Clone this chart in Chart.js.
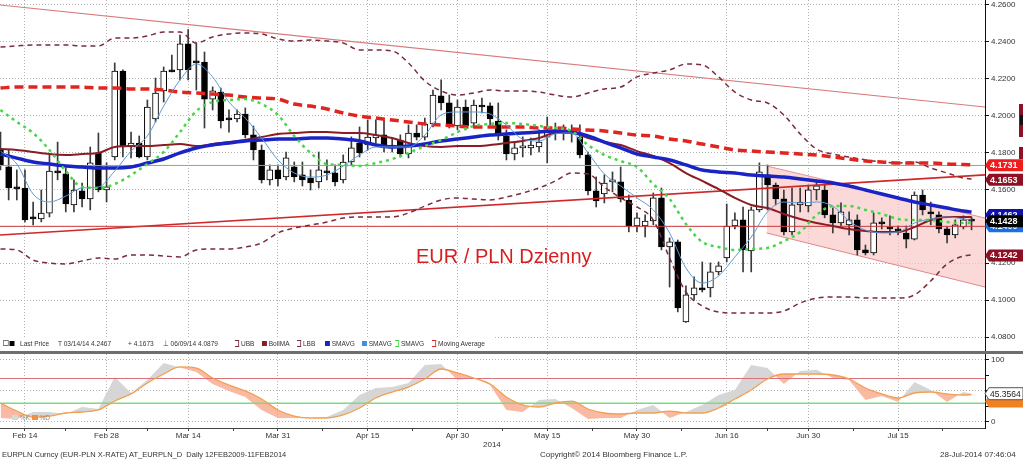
<!DOCTYPE html>
<html>
<head>
<meta charset="utf-8">
<script src="https://cdn.jsdelivr.net/npm/chart.js@4.4.0/dist/chart.umd.min.js"></script>
<style>
  body { margin:0; background:#fff; width:1023px; height:461px; position:relative; overflow:hidden;
         font-family:'Liberation Sans Narrow','Liberation Sans',Arial,sans-serif; }
  canvas { position:absolute; left:0; }
  #upper { top:0; }
  #lower { top:354px; }
  .sep { position:absolute; left:0; top:351px; width:1023px; height:3px; background:#6e6e6e; }
  .title { position:absolute; left:416px; top:246px; font:20px 'Liberation Sans',Arial,sans-serif; color:#d42020;
           line-height:20px; white-space:nowrap; }
  .legend { position:absolute; left:0; top:337px; height:13px; width:495px; background:rgba(255,255,255,0.92);
            font-size:8px; color:#333; }
  .legend span { position:absolute; top:2px; white-space:nowrap; line-height:9px; transform:scaleX(0.82); transform-origin:left center; }
  .sq { display:inline-block; width:6px; height:5px; vertical-align:0; }
  .br { display:inline-block; width:4px; height:5px; border:1px solid; border-left:none; vertical-align:-1px; }
  .box { display:inline-block; width:5px; height:4px; border:1px solid #777; margin-right:1px; vertical-align:0; }
  .foot { position:absolute; font-size:8px; color:#333; white-space:nowrap; line-height:10px; }
  .kd { position:absolute; left:12px; top:414px; font-size:6.5px; color:#888; line-height:8px; white-space:nowrap; }
</style>
</head>
<body>
<canvas id="upper" width="1023" height="352"></canvas>
<div class="title">EUR / PLN Dzienny</div>
<div class="legend">
  <span style="left:3px"><i class="box"></i><i class="sq" style="background:#000"></i></span>
  <span style="left:20px">Last Price</span>
  <span style="left:58px">T 03/14/14 4.2467</span>
  <span style="left:128px">+ 4.1673</span>
  <span style="left:163px">⊥ 06/09/14 4.0879</span>
  <span style="left:235px"><i class="br" style="border-color:#7a2b3c"></i> UBB</span>
  <span style="left:262px"><i class="sq" style="background:#8c1c24"></i> BollMA</span>
  <span style="left:297px"><i class="br" style="border-color:#7a2b3c"></i> LBB</span>
  <span style="left:325px"><i class="sq" style="background:#1a24c4"></i> SMAVG</span>
  <span style="left:362px"><i class="sq" style="background:#3d8fe0"></i> SMAVG</span>
  <span style="left:395px"><i class="br" style="border-color:#47d647"></i> SMAVG</span>
  <span style="left:432px"><i class="br" style="border-color:#e0241f"></i> Moving Average</span>
</div>
<div class="sep"></div>
<canvas id="lower" width="1023" height="88"></canvas>
<div class="kd"><i class="sq" style="background:#d8d8d8"></i> %K <i class="sq" style="background:#f09040"></i> %D</div>
<div class="foot" style="left:483px;top:440px">2014</div>
<div class="foot" style="left:2px;top:450px;font-size:7.5px">EURPLN Curncy (EUR-PLN X-RATE) AT_EURPLN_D&nbsp; Daily 12FEB2009-11FEB2014</div>
<div class="foot" style="left:540px;top:450px">Copyright© 2014 Bloomberg Finance L.P.</div>
<div class="foot" style="left:940px;top:450px">28-Jul-2014 07:46:04</div>

<script>
// trading-day index, 0 = Feb 14 2014
const tickIdx = [0, 10, 20, 31, 42, 53, 64, 75, 86, 96, 107];
const tickLabels = ['Feb 14', 'Feb 28', 'Mar 14', 'Mar 31', 'Apr 15', 'Apr 30', 'May 15', 'May 30', 'Jun 16', 'Jun 30', 'Jul 15'];
const minorIdx = [5, 15, 25.5, 36.5, 47.5, 58.5, 69.5, 80.5, 91, 101.5, 112.5];
const priceTicks = [4.08, 4.10, 4.12, 4.14, 4.16, 4.18, 4.20, 4.22, 4.24, 4.26];
const oscTicks = [0, 25, 50, 75, 100];

// daily candles, first one = index -3
const firstIdx = -3;
const open = [
  4.1814, 4.1722, 4.1614, 4.1608, 4.1451, 4.1440, 4.1472, 4.1700, 4.1684, 4.1516,
  4.1592, 4.1549, 4.1798, 4.1597, 4.1776, 4.2242, 4.1830, 4.1852, 4.1776, 4.1982,
  4.2134, 4.2248, 4.2248, 4.2389, 4.2296, 4.2291, 4.2090, 4.2128, 4.1982, 4.1982,
  4.2009, 4.1896, 4.1814, 4.1652, 4.1706, 4.1668, 4.1722, 4.1679, 4.1662, 4.1641,
  4.1700, 4.1690, 4.1652, 4.1749, 4.1852, 4.1841, 4.1879, 4.1896, 4.1841, 4.1868,
  4.1792, 4.1906, 4.1884, 4.1955, 4.2107, 4.2069, 4.1944, 4.2047, 4.1960, 4.2053,
  4.2053, 4.1971, 4.1890, 4.1792, 4.1825, 4.1825, 4.1830, 4.1884, 4.1906, 4.1911,
  4.1906, 4.1884, 4.1787, 4.1592, 4.1576, 4.1641, 4.1641, 4.1543, 4.1402, 4.1402,
  4.1429, 4.1554, 4.1289, 4.1316, 4.0882, 4.1028, 4.1066, 4.1066, 4.1153, 4.1229,
  4.1402, 4.1435, 4.1267, 4.1489, 4.1679, 4.1624, 4.1549, 4.1370, 4.1516, 4.1511,
  4.1598, 4.1597, 4.1462, 4.1419, 4.1408, 4.1435, 4.1272, 4.1256, 4.1424, 4.1397,
  4.1386, 4.1364, 4.1331, 4.1570, 4.1478, 4.1462, 4.1386, 4.1354, 4.1397, 4.1435
];
const high = [
  4.1911, 4.1814, 4.1706, 4.1706, 4.1532, 4.1597, 4.1787, 4.1857, 4.1717, 4.1652,
  4.1635, 4.1830, 4.1906, 4.1744, 4.2286, 4.2248, 4.1911, 4.1890, 4.2085, 4.2204,
  4.2264, 4.2329, 4.2437, 4.2467, 4.2394, 4.2345, 4.2156, 4.2150, 4.2031, 4.2031,
  4.2042, 4.1944, 4.1841, 4.1733, 4.1733, 4.1803, 4.1749, 4.1749, 4.1706, 4.1803,
  4.1760, 4.1733, 4.1787, 4.1885, 4.1939, 4.1977, 4.1977, 4.1977, 4.1879, 4.1896,
  4.1950, 4.1950, 4.1987, 4.2139, 4.2194, 4.2112, 4.2085, 4.2085, 4.2085, 4.2096,
  4.2069, 4.2069, 4.1923, 4.1857, 4.1885, 4.1879, 4.1923, 4.1993, 4.1960, 4.1950,
  4.1950, 4.1950, 4.1803, 4.1668, 4.1679, 4.1695, 4.1722, 4.1570, 4.1473, 4.1462,
  4.1581, 4.1608, 4.1337, 4.1326, 4.1077, 4.1126, 4.1207, 4.1202, 4.1207, 4.1521,
  4.1473, 4.1505, 4.1505, 4.1744, 4.1733, 4.1635, 4.1597, 4.1608, 4.1608, 4.1624,
  4.1652, 4.1624, 4.1500, 4.1527, 4.1478, 4.1462, 4.1299, 4.1473, 4.1446, 4.1457,
  4.1402, 4.1402, 4.1587, 4.1597, 4.1532, 4.1478, 4.1397, 4.1435, 4.1457, 4.1451
];
const low = [
  4.1706, 4.1543, 4.1543, 4.1424, 4.1408, 4.1424, 4.1451, 4.1652, 4.1478, 4.1478,
  4.1505, 4.1489, 4.1587, 4.1532, 4.1760, 4.1776, 4.1771, 4.1771, 4.1760, 4.1966,
  4.2074, 4.2237, 4.2194, 4.2194, 4.2139, 4.1933, 4.2031, 4.1933, 4.1911, 4.1966,
  4.1879, 4.1760, 4.1635, 4.1624, 4.1619, 4.1652, 4.1641, 4.1619, 4.1597, 4.1608,
  4.1652, 4.1619, 4.1635, 4.1733, 4.1776, 4.1814, 4.1852, 4.1803, 4.1803, 4.1776,
  4.1771, 4.1868, 4.1868, 4.1939, 4.2031, 4.1933, 4.1923, 4.1923, 4.1933, 4.2015,
  4.1950, 4.1868, 4.1760, 4.1760, 4.1776, 4.1787, 4.1803, 4.1744, 4.1868, 4.1868,
  4.1857, 4.1771, 4.1570, 4.1505, 4.1527, 4.1587, 4.1532, 4.1370, 4.1370, 4.1343,
  4.1408, 4.1272, 4.1071, 4.0936, 4.0879, 4.1001, 4.1044, 4.1017, 4.1137, 4.1207,
  4.1386, 4.1153, 4.1153, 4.1478, 4.1489, 4.1516, 4.1354, 4.1354, 4.1478, 4.1478,
  4.1543, 4.1446, 4.1364, 4.1402, 4.1354, 4.1245, 4.1245, 4.1245, 4.1386, 4.1354,
  4.1354, 4.1283, 4.1326, 4.1462, 4.1408, 4.1364, 4.1310, 4.1337, 4.1386, 4.1381
];
const close = [
  4.1733, 4.1608, 4.1603, 4.1435, 4.1440, 4.1472, 4.1700, 4.1690, 4.1522, 4.1597,
  4.1549, 4.1744, 4.1597, 4.1614, 4.2242, 4.1830, 4.1852, 4.1776, 4.2047, 4.2123,
  4.2242, 4.2237, 4.2389, 4.2248, 4.2286, 4.2090, 4.2134, 4.1971, 4.1977, 4.2009,
  4.1896, 4.1814, 4.1652, 4.1706, 4.1657, 4.1771, 4.1668, 4.1652, 4.1635, 4.1706,
  4.1690, 4.1641, 4.1749, 4.1825, 4.1798, 4.1884, 4.1896, 4.1825, 4.1825, 4.1792,
  4.1906, 4.1884, 4.1955, 4.2112, 4.2069, 4.1944, 4.2047, 4.1944, 4.2058, 4.2047,
  4.1982, 4.1890, 4.1792, 4.1825, 4.1836, 4.1841, 4.1857, 4.1911, 4.1911, 4.1906,
  4.1901, 4.1787, 4.1592, 4.1538, 4.1635, 4.1646, 4.1549, 4.1402, 4.1446, 4.1429,
  4.1554, 4.1289, 4.1316, 4.0958, 4.1028, 4.1066, 4.1055, 4.1153, 4.1186, 4.1402,
  4.1435, 4.1272, 4.1489, 4.1695, 4.1624, 4.1549, 4.1370, 4.1516, 4.1532, 4.1598,
  4.1619, 4.1462, 4.1419, 4.1478, 4.1435, 4.1272, 4.1256, 4.1419, 4.1413, 4.1386,
  4.1375, 4.1331, 4.1570, 4.1489, 4.1467, 4.1386, 4.1354, 4.1408, 4.1435, 4.1428
];

// indicator lines, read every second trading day
const lineIdx = [-3, -1, 1, 3, 5, 7, 9, 11, 13, 15, 17, 19, 21, 23, 25, 27, 29, 31, 33, 35,
  37, 39, 41, 43, 45, 47, 49, 51, 53, 55, 57, 59, 61, 63, 65, 67, 69, 71, 73, 75,
  77, 79, 81, 83, 85, 87, 89, 91, 93, 95, 97, 99, 101, 103, 105, 107, 109, 111, 113, 115, 116];
const ubb = [4.2372, 4.2378, 4.2383, 4.2383, 4.2383, 4.2378, 4.2378, 4.2421, 4.2421, 4.2432,
  4.2454, 4.2454, 4.2394, 4.2427, 4.2443, 4.2448, 4.2443, 4.2416, 4.2405, 4.2410,
  4.2405, 4.2394, 4.2356, 4.2356, 4.2351, 4.2286, 4.2188, 4.2134, 4.2112, 4.2123,
  4.2139, 4.2134, 4.2134, 4.2128, 4.2112, 4.2101, 4.2123, 4.2145, 4.2155, 4.2210,
  4.2231, 4.2248, 4.2280, 4.2275, 4.2210, 4.2128, 4.2085, 4.2069, 4.2004, 4.1901,
  4.1819, 4.1792, 4.1776, 4.1760, 4.1749, 4.1743, 4.1749, 4.1716, 4.1689, 4.1662, 4.1657];
const lbb = [4.1277, 4.1272, 4.1217, 4.1201, 4.1196, 4.1212, 4.1228, 4.1223, 4.1245, 4.1245,
  4.1239, 4.1234, 4.1272, 4.1277, 4.1277, 4.1288, 4.1310, 4.1364, 4.1391, 4.1407,
  4.1423, 4.1445, 4.1451, 4.1451, 4.1451, 4.1472, 4.1510, 4.1543, 4.1554, 4.1548,
  4.1543, 4.1559, 4.1581, 4.1608, 4.1646, 4.1689, 4.1684, 4.1613, 4.1554, 4.1505,
  4.1434, 4.1228, 4.1044, 4.0968, 4.0935, 4.0930, 4.0930, 4.0930, 4.0941, 4.0984,
  4.1011, 4.1017, 4.1017, 4.1011, 4.1011, 4.1011, 4.1028, 4.1104, 4.1196, 4.1239, 4.1245];
const bollMa = [4.1819, 4.1814, 4.1803, 4.1792, 4.1787, 4.1792, 4.1798, 4.1830, 4.1835, 4.1835,
  4.1841, 4.1846, 4.1835, 4.1846, 4.1857, 4.1868, 4.1884, 4.1901, 4.1906, 4.1911,
  4.1911, 4.1906, 4.1906, 4.1895, 4.1879, 4.1852, 4.1835, 4.1830, 4.1835, 4.1835,
  4.1841, 4.1852, 4.1863, 4.1879, 4.1906, 4.1906, 4.1879, 4.1857, 4.1841, 4.1808,
  4.1781, 4.1743, 4.1689, 4.1646, 4.1602, 4.1554, 4.1516, 4.1499, 4.1467, 4.1440,
  4.1418, 4.1402, 4.1385, 4.1375, 4.1369, 4.1369, 4.1396, 4.1434, 4.1451, 4.1451, 4.1451];
const smaLong = [4.1792, 4.1770, 4.1749, 4.1738, 4.1727, 4.1722, 4.1716, 4.1716, 4.1722, 4.1743,
  4.1765, 4.1798, 4.1825, 4.1841, 4.1852, 4.1863, 4.1868, 4.1873, 4.1873, 4.1879,
  4.1879, 4.1873, 4.1863, 4.1841, 4.1830, 4.1835, 4.1846, 4.1863, 4.1873, 4.1884,
  4.1895, 4.1901, 4.1906, 4.1911, 4.1917, 4.1911, 4.1890, 4.1857, 4.1825, 4.1792,
  4.1776, 4.1760, 4.1733, 4.1705, 4.1695, 4.1689, 4.1678, 4.1673, 4.1667, 4.1657,
  4.1646, 4.1635, 4.1619, 4.1597, 4.1575, 4.1554, 4.1532, 4.1516, 4.1499, 4.1483, 4.1478];
const maSlow = [4.2150, 4.2155, 4.2155, 4.2155, 4.2155, 4.2155, 4.2150, 4.2150, 4.2145, 4.2145,
  4.2139, 4.2128, 4.2123, 4.2117, 4.2112, 4.2101, 4.2096, 4.2090, 4.2063, 4.2052,
  4.2036, 4.2014, 4.1998, 4.1987, 4.1976, 4.1966, 4.1955, 4.1949, 4.1944, 4.1938,
  4.1938, 4.1938, 4.1938, 4.1933, 4.1933, 4.1928, 4.1922, 4.1917, 4.1906, 4.1895,
  4.1890, 4.1873, 4.1863, 4.1846, 4.1830, 4.1814, 4.1808, 4.1803, 4.1798, 4.1792,
  4.1787, 4.1776, 4.1765, 4.1754, 4.1749, 4.1743, 4.1743, 4.1743, 4.1738, 4.1735, 4.1733];
const smaGreen = [4.2031, 4.1966, 4.1906, 4.1814, 4.1700, 4.1613, 4.1608, 4.1629, 4.1678, 4.1738,
  4.1803, 4.1911, 4.2025, 4.2074, 4.2085, 4.2090, 4.2063, 4.2004, 4.1890, 4.1798,
  4.1738, 4.1733, 4.1727, 4.1743, 4.1765, 4.1798, 4.1835, 4.1868, 4.1911, 4.1944,
  4.1955, 4.1960, 4.1955, 4.1944, 4.1933, 4.1917, 4.1841, 4.1787, 4.1754, 4.1722,
  4.1629, 4.1548, 4.1413, 4.1315, 4.1288, 4.1272, 4.1277, 4.1283, 4.1320, 4.1369,
  4.1461, 4.1510, 4.1510, 4.1489, 4.1467, 4.1440, 4.1434, 4.1434, 4.1423, 4.1418, 4.1418];
const smaShort = [4.1808, 4.1738, 4.1575, 4.1532, 4.1564, 4.1608, 4.1613, 4.1700, 4.1808, 4.1890,
  4.2052, 4.2193, 4.2280, 4.2210, 4.2074, 4.1987, 4.1879, 4.1760, 4.1689, 4.1667,
  4.1678, 4.1727, 4.1787, 4.1830, 4.1830, 4.1830, 4.1895, 4.2004, 4.2020, 4.2020,
  4.2009, 4.1949, 4.1873, 4.1863, 4.1901, 4.1906, 4.1798, 4.1684, 4.1619, 4.1554,
  4.1489, 4.1364, 4.1174, 4.1093, 4.1131, 4.1234, 4.1342, 4.1478, 4.1532, 4.1526,
  4.1532, 4.1510, 4.1429, 4.1380, 4.1364, 4.1369, 4.1418, 4.1440, 4.1451, 4.1440, 4.1434];

// trend lines and levels: [start index, start price, end index, end price]
const trendDown = [-3.06, 4.2600, 117.65, 4.2047];
const trendUp = [-3.06, 4.1353, 117.65, 4.1679];
const channelTop = [90.9, 4.1727, 117.65, 4.1445];
const channelBottom = [90.9, 4.1364, 117.65, 4.1071];
const levelGreen = 4.1730;
const levelRed = 4.1400;
const upperTags = [4.1731, 4.1653, 4.1462, 4.1400, 4.1428, 4.1242];

// oscillator panel
const kVals = [6.0, 4.4, 15.7, 15.7, 12.5, 23.8, 20.6, 72.4, 46.5, 67.6,
  95.0, 88.0, 80.6, 61.1, 49.8, 40.0, 19.0, 6.0, 6.0, 6.0,
  7.6, 19.0, 43.3, 54.6, 56.2, 62.7, 91.9, 93.5, 67.6, 70.8,
  59.5, 19.0, 15.7, 35.2, 36.8, 22.2, 4.4, 6.0, 6.0, 19.0,
  27.0, 6.0, 15.7, 27.0, 43.3, 51.4, 91.9, 87.0, 61.1, 82.3,
  84.0, 70.8, 67.6, 35.2, 41.7, 32.0, 64.3, 51.4, 32.0, 48.1, 45.36];
const dVals = [30.3, 17.3, 7.6, 9.2, 14.1, 15.7, 19.0, 33.5, 45.0, 62.7,
  77.3, 88.7, 87.0, 70.8, 59.5, 49.8, 36.8, 19.0, 9.2, 6.0,
  6.0, 10.9, 22.2, 38.4, 48.1, 56.2, 69.2, 85.4, 79.0, 70.8,
  61.1, 40.0, 27.1, 23.8, 30.3, 33.5, 20.6, 14.1, 12.5, 14.1,
  14.1, 17.3, 14.1, 14.1, 22.2, 36.8, 51.4, 69.2, 77.3, 77.3,
  77.3, 75.7, 69.2, 54.6, 45.0, 38.4, 46.5, 48.1, 45.0, 43.3, 44.0];
const oscLevels = [70, 30];
const oscTag = 45.3564;

const X_MIN = -3.06, X_MAX = 117.65;
const FONT = "'Liberation Sans Narrow','Liberation Sans',Arial,sans-serif";
Chart.defaults.font.family = FONT;
Chart.defaults.font.size = 8;
Chart.defaults.color = '#333';

function pts(xs, ys) { return xs.map((x, i) => ({x: x, y: ys[i]})); }
function seg(s) { return [{x: s[0], y: s[1]}, {x: s[2], y: s[3]}]; }
function flat(v) { return [{x: X_MIN, y: v}, {x: X_MAX, y: v}]; }

const bodies = close.map((c, k) => ({x: firstIdx + k, y: [open[k], c]}));
const wicks = close.map((c, k) => ({x: firstIdx + k, y: [low[k], high[k]]}));

function line(data, color, width, dash, order) {
  return {type: 'line', data: data, borderColor: color, borderWidth: width, borderDash: dash || [],
          pointRadius: 0, fill: false, cubicInterpolationMode: 'monotone', order: order};
}

function drawTag(ctx, y, text, bg, fg, border, font) {
  const h = 12;
  ctx.save();
  ctx.beginPath();
  ctx.moveTo(985, y);
  ctx.lineTo(989, y - h / 2);
  ctx.lineTo(1023, y - h / 2);
  ctx.lineTo(1023, y + h / 2);
  ctx.lineTo(989, y + h / 2);
  ctx.closePath();
  ctx.fillStyle = bg;
  ctx.fill();
  if (border) { ctx.strokeStyle = border; ctx.lineWidth = 1; ctx.stroke(); }
  ctx.fillStyle = fg;
  ctx.font = font;
  ctx.textBaseline = 'middle';
  ctx.textAlign = 'left';
  ctx.fillText(text, 990, y + 0.5);
  ctx.restore();
}

const upperTagPlugin = {
  id: 'upperTags',
  afterDraw(chart) {
    const ctx = chart.ctx, y = chart.scales.y;
    const colors = ['#ee1c1c', '#8e1024', '#1212a8', '#1f6fe0', '#000000', '#8e1024'];
    upperTags.forEach((v, i) => {
      drawTag(ctx, y.getPixelForValue(v), v.toFixed(4), colors[i], '#fff', null,
              "bold 9px 'Liberation Sans',Arial,sans-serif");
    });
    ctx.fillStyle = '#8e1024';
    ctx.fillRect(1019, 104, 4, 33);
    ctx.fillRect(1019, 147, 4, 12);
    ctx.fillStyle = '#111';
    ctx.fillRect(1020, 115, 3, 10);
  }
};

const lowerTagPlugin = {
  id: 'lowerTags',
  afterDraw(chart) {
    const ctx = chart.ctx, y = chart.scales.y;
    drawTag(ctx, y.getPixelForValue(dVals[dVals.length - 1]) + 7, '', '#f08020', '#fff', null, '8px ' + FONT);
    drawTag(ctx, y.getPixelForValue(oscTag), oscTag.toFixed(4), '#ffffff', '#222', '#555', "8.5px 'Liberation Sans',Arial,sans-serif");
  }
};

function zeroPad(s) { s.paddingTop = 0; s.paddingBottom = 0; s.paddingLeft = 0; s.paddingRight = 0; }

new Chart(document.getElementById('upper'), {
  type: 'line',
  data: {
    datasets: [
      {type: 'line', data: seg(channelTop), borderColor: '#e39494', borderWidth: 1, pointRadius: 0,
       fill: '+1', backgroundColor: 'rgba(249,196,196,0.65)', order: 60},
      {type: 'line', data: seg(channelBottom), borderColor: '#e08888', borderWidth: 1, pointRadius: 0,
       fill: false, order: 59},
      {type: 'bar', data: wicks, backgroundColor: '#3a3a3a', borderWidth: 0, barThickness: 1,
       grouped: false, order: 55},
      {type: 'bar', data: bodies, grouped: false, order: 54, barThickness: 6, minBarLength: 2,
       borderColor: '#000', borderWidth: 1, borderSkipped: false,
       backgroundColor: (c) => (c.raw && c.raw.y[1] >= c.raw.y[0]) ? '#ffffff' : '#000000'},
      line(flat(levelGreen), '#5acb5a', 1, null, 30),
      line(flat(levelRed), '#cc3a3a', 1, null, 30),
      line(seg(trendDown), '#d77b7b', 1.2, null, 30),
      line(seg(trendUp), '#d0282a', 1.6, null, 30),
      line(pts(lineIdx, ubb), '#7a2b3c', 1.5, [5, 4], 20),
      line(pts(lineIdx, lbb), '#7a2b3c', 1.5, [5, 4], 20),
      line(pts(lineIdx, bollMa), '#8c1c24', 2, null, 15),
      line(pts(lineIdx, smaLong), '#1a24c4', 3.5, null, 12),
      line(pts(lineIdx, maSlow), '#e0241f', 3.5, [9, 5], 10),
      line(pts(lineIdx, smaGreen), '#47d647', 2.5, [3, 4], 9),
      line(pts(lineIdx, smaShort), '#5b9bd5', 1, null, 8)
    ]
  },
  options: {
    responsive: false, animation: false, devicePixelRatio: 1,
    layout: {padding: 0, autoPadding: false},
    plugins: {legend: {display: false}, tooltip: {enabled: false}},
    scales: {
      x: {
        type: 'linear', min: X_MIN, max: X_MAX, offset: false,
        afterBuildTicks: (s) => { s.ticks = tickIdx.map(v => ({value: v})); },
        afterFit: (s) => { s.height = 0; zeroPad(s); },
        ticks: {display: false},
        grid: {color: '#b4b4b4', drawTicks: false, offset: false},
        border: {display: false, dash: [1, 2]}
      },
      y: {
        type: 'linear', position: 'right', min: 4.07187, max: 4.26271,
        afterBuildTicks: (s) => { s.ticks = priceTicks.map(v => ({value: v})); },
        afterFit: (s) => { s.width = 38; zeroPad(s); },
        ticks: {callback: (v) => Number(v).toFixed(4), padding: 2, color: '#333', font: {size: 8}},
        grid: {color: '#b4b4b4', tickColor: '#111', tickLength: 4, tickBorderDash: []},
        border: {display: true, color: '#111', width: 1, dash: [1, 2]}
      }
    }
  },
  plugins: [upperTagPlugin]
});

const labelAt = {};
tickIdx.forEach((v, i) => { labelAt[v] = tickLabels[i]; });
const allXTicks = tickIdx.concat(minorIdx).sort((a, b) => a - b);

new Chart(document.getElementById('lower'), {
  type: 'line',
  data: {
    datasets: [
      {type: 'line', data: pts(lineIdx, kVals), borderWidth: 0, borderColor: 'rgba(0,0,0,0)', pointRadius: 0,
       tension: 0, fill: {target: 1, above: 'rgba(210,210,210,0.9)', below: 'rgba(248,168,140,0.8)'}, order: 3},
      {type: 'line', data: pts(lineIdx, dVals), borderColor: '#f2a050', borderWidth: 1.3, pointRadius: 0,
       cubicInterpolationMode: 'monotone', fill: false, order: 0},
      line(flat(oscLevels[0]), '#d9707a', 1, null, 1),
      line(flat(oscLevels[1]), '#7ddc7d', 1.5, null, 1)
    ]
  },
  options: {
    responsive: false, animation: false, devicePixelRatio: 1,
    layout: {padding: 0, autoPadding: false},
    plugins: {legend: {display: false}, tooltip: {enabled: false}},
    scales: {
      x: {
        type: 'linear', min: X_MIN, max: X_MAX, offset: false,
        afterBuildTicks: (s) => { s.ticks = allXTicks.map(v => ({value: v})); },
        afterFit: (s) => { s.height = 14; zeroPad(s); },
        ticks: {autoSkip: false, maxRotation: 0, padding: 0, color: '#333', font: {size: 8},
                callback: (v) => labelAt[v] || ''},
        grid: {color: (c) => (c.tick && labelAt[c.tick.value]) ? '#b4b4b4' : 'rgba(0,0,0,0)',
               tickColor: '#444', tickLength: 3, tickBorderDash: []},
        border: {display: true, color: '#444', width: 1, dash: [1, 2]}
      },
      y: {
        type: 'linear', position: 'right', min: -10.21, max: 109.72,
        afterBuildTicks: (s) => { s.ticks = oscTicks.map(v => ({value: v})); },
        afterFit: (s) => { s.width = 38; zeroPad(s); },
        ticks: {callback: (v) => (v === 0 || v === 100) ? String(v) : '', padding: 2, color: '#333', font: {size: 8}},
        grid: {color: (c) => (c.tick && c.tick.value % 50 === 0) ? '#b4b4b4' : 'rgba(0,0,0,0)',
               tickColor: '#111', tickLength: 4, tickBorderDash: []},
        border: {display: true, color: '#111', width: 1, dash: [1, 2]}
      }
    }
  },
  plugins: [lowerTagPlugin]
});
</script>
</body>
</html>
